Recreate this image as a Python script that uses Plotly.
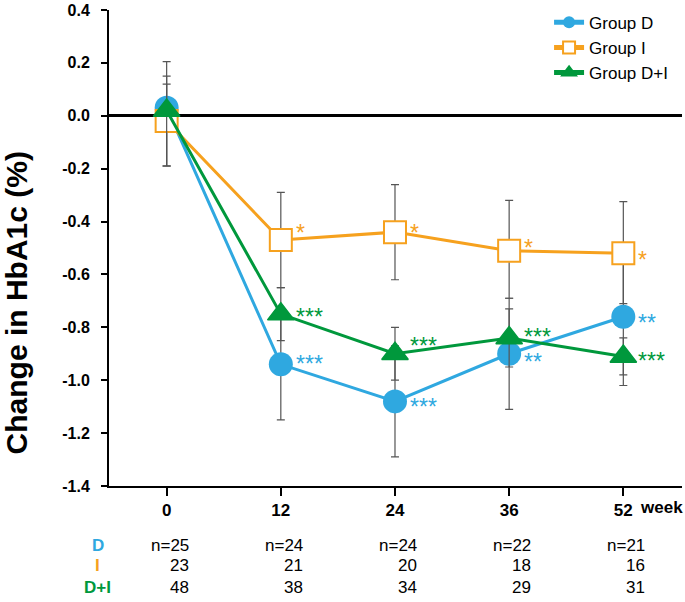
import plotly.graph_objects as go

# ---------------- data ----------------
weeks = ["0", "12", "24", "36", "52"]

d_mean = [0.03, -0.94, -1.08, -0.90, -0.76]
d_err_up = [0.175, 0.20, 0.21, 0.21, 0.26]
d_err_dn = [0.22, 0.21, 0.21, 0.21, 0.26]

i_mean = [-0.02, -0.47, -0.44, -0.51, -0.52]
i_err_up = [0.17, 0.18, 0.18, 0.19, 0.195]
i_err_dn = [0.17, 0.18, 0.18, 0.18, 0.19]

di_mean = [0.02, -0.75, -0.90, -0.84, -0.91]
di_err_up = [0.10, 0.10, 0.10, 0.11, 0.07]
di_err_dn = [0.21, 0.10, 0.10, 0.11, 0.07]

d_stars = ["", "***", "***", "**", "**"]
i_stars = ["", "*", "*", "*", "*"]
di_stars = ["", "***", "***", "***", "***"]

n_d = [25, 24, 24, 22, 21]
n_i = [23, 21, 20, 18, 16]
n_di = [48, 38, 34, 29, 31]

y_ticks = [0.4, 0.2, 0.0, -0.2, -0.4, -0.6, -0.8, -1.0, -1.2, -1.4]

# ---------------- styles ----------------
BLUE = "#2FA8E0"
ORANGE = "#F6A11E"
GREEN = "#00983C"
ERR = "#555555"
FONT = "Liberation Sans, Arial, sans-serif"

# star label vertical nudges (px)
d_star_shift = [0, 0, -6, -8, -6]
i_star_shift = [0, 7, -1, 3, -7]
di_star_shift = [0, -3, 8, 1, -5]

fig = go.Figure()


def err(up, dn):
    return dict(type="data", symmetric=False, array=up, arrayminus=dn,
                color=ERR, thickness=1.2, width=4)


fig.add_trace(go.Scatter(
    x=weeks, y=d_mean, name="Group D", mode="lines+markers",
    line=dict(color=BLUE, width=3),
    marker=dict(symbol="circle", size=24, color=BLUE),
    error_y=err(d_err_up, d_err_dn)))

fig.add_trace(go.Scatter(
    x=weeks, y=i_mean, name="Group I", mode="lines+markers",
    line=dict(color=ORANGE, width=3),
    marker=dict(symbol="square", size=22, color="white",
                line=dict(color=ORANGE, width=2)),
    error_y=err(i_err_up, i_err_dn)))

fig.add_trace(go.Scatter(
    x=weeks, y=di_mean, name="Group D+I", mode="lines+markers",
    line=dict(color=GREEN, width=3),
    marker=dict(symbol="triangle-up", size=23, color=GREEN,
                line=dict(color=GREEN, width=1.5)),
    error_y=err(di_err_up, di_err_dn)))

annotations = []

# significance stars (x given as category index)
for stars, vals, shifts, col in [(d_stars, d_mean, d_star_shift, BLUE),
                                 (i_stars, i_mean, i_star_shift, ORANGE),
                                 (di_stars, di_mean, di_star_shift, GREEN)]:
    for k, (s, v, sh) in enumerate(zip(stars, vals, shifts)):
        if s:
            annotations.append(dict(
                x=k, y=v, xref="x", yref="y", text=s, showarrow=False,
                xanchor="left", yanchor="middle", xshift=13, yshift=sh,
                font=dict(family=FONT, size=23, color=col)))

# "week" unit after last tick label
annotations.append(dict(
    x=len(weeks) - 1, y=-0.046, xref="x", yref="paper", text="week",
    showarrow=False, xanchor="left", yanchor="middle", xshift=15,
    font=dict(family=FONT, size=17, color="black", weight="bold")))

# n table
rows = [("D", BLUE, n_d, True, -0.126),
        ("I", ORANGE, n_i, False, -0.168),
        ("D+I", GREEN, n_di, False, -0.214)]
for label, col, nums, prefix, yp in rows:
    annotations.append(dict(
        x=-0.0197, y=yp, xref="paper", yref="paper", text=label,
        showarrow=False, xanchor="center", yanchor="middle",
        font=dict(family=FONT, size=17, color=col, weight="bold")))
    for k, n in enumerate(nums):
        annotations.append(dict(
            x=k, y=yp, xref="x", yref="paper",
            text=(f"n={n}" if prefix else str(n)), showarrow=False,
            xanchor="right", yanchor="middle", xshift=24,
            font=dict(family=FONT, size=17, color="black")))

# y-axis title
annotations.append(dict(
    x=-0.162, y=0.384, xref="paper", yref="paper",
    text="Change in HbA1c (%)", textangle=-90, showarrow=False,
    xanchor="center", yanchor="middle",
    font=dict(family=FONT, size=30, color="black", weight="bold")))

fig.update_layout(
    width=685, height=602,
    margin=dict(l=109, r=3, t=10, b=116),
    paper_bgcolor="white", plot_bgcolor="white",
    font=dict(family=FONT, color="black"),
    showlegend=True,
    legend=dict(x=0.768, y=1.011, xanchor="left", yanchor="top",
                bgcolor="rgba(0,0,0,0)", itemsizing="constant",
                font=dict(family=FONT, size=17, color="black")),
    annotations=annotations,
)

fig.update_xaxes(
    type="category", categoryorder="array", categoryarray=weeks,
    range=[-0.505, 4.514], automargin=False,
    showline=True, linecolor="black", linewidth=2,
    ticks="outside", ticklen=8, tickwidth=1.5, tickcolor="black",
    tickfont=dict(family=FONT, size=17, color="black", weight="bold"),
    showgrid=False, zeroline=False)

fig.update_yaxes(
    range=[-1.4, 0.4], tickvals=y_ticks, automargin=False,
    ticktext=[f"{v:.1f}" for v in y_ticks],
    showline=True, linecolor="black", linewidth=2,
    ticks="outside", ticklen=6, tickwidth=2, tickcolor="black",
    ticklabelstandoff=8,
    tickfont=dict(family=FONT, size=16, color="black", weight="bold"),
    showgrid=False, zeroline=True, zerolinecolor="black", zerolinewidth=2.5)

fig.write_html("out.html",
               config={"displayModeBar": False},
               post_script="document.body.style.margin='0px';"
                           "document.body.style.padding='0px';")
